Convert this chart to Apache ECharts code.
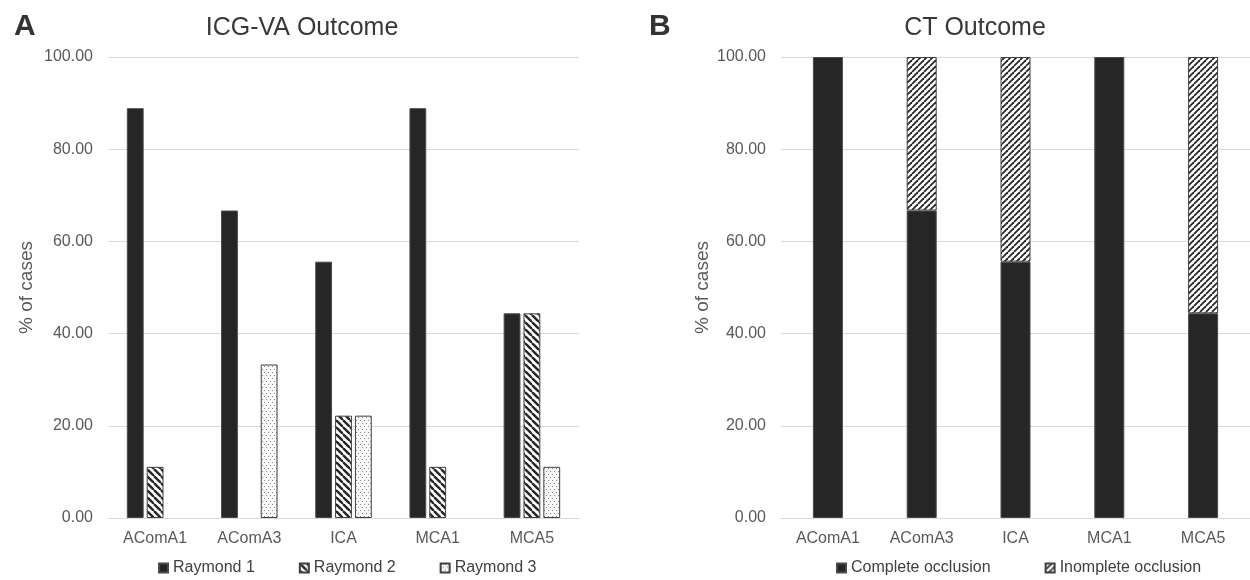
<!DOCTYPE html>
<html>
<head>
<meta charset="utf-8">
<script src="https://cdn.jsdelivr.net/npm/echarts@6/dist/echarts.min.js"></script>
<style>
html,body{margin:0;padding:0;background:#fff;}
#chart{width:1250px;height:580px;}
</style>
</head>
<body>
<div id="chart"></div>
<script>
// ---- data ----
const categories = ['AComA1', 'AComA3', 'ICA', 'MCA1', 'MCA5'];
const yTicks = [0, 20, 40, 60, 80, 100];
const raymond1 = [88.9, 66.7, 55.6, 88.9, 44.4];
const raymond2 = [11.1, 0, 22.2, 11.1, 44.4];
const raymond3 = [0, 33.3, 22.2, 0, 11.1];
const completeOcclusion = [100, 66.7, 55.6, 100, 44.4];
const incompleteOcclusion = [0, 33.3, 44.4, 0, 55.6];
const leftSeriesNames = ['Raymond 1', 'Raymond 2', 'Raymond 3'];
const rightSeriesNames = ['Complete occlusion', 'Inomplete occlusion'];

// ---- patterns ----
function stripes(size, lw, dir, color, bg) {
  const c = document.createElement('canvas');
  c.width = size; c.height = size;
  const g = c.getContext('2d');
  g.fillStyle = bg; g.fillRect(0, 0, size, size);
  g.strokeStyle = color; g.lineWidth = lw;
  for (let k = -1; k <= 1; k++) {
    g.beginPath();
    if (dir === 'back') { g.moveTo(k * size, 0); g.lineTo(k * size + size, size); }
    else { g.moveTo(k * size, size); g.lineTo(k * size + size, 0); }
    g.stroke();
  }
  return { image: c, repeat: 'repeat' };
}
function dots() {
  const c = document.createElement('canvas');
  c.width = 4; c.height = 6;
  const g = c.getContext('2d');
  g.fillStyle = '#f7f7f7'; g.fillRect(0, 0, 4, 6);
  g.fillStyle = '#8a8a8a';
  g.fillRect(0, 0, 1, 1);
  g.fillRect(2, 3, 1, 1);
  return { image: c, repeat: 'repeat' };
}
const BLACK = '#262626';
const r2Pattern = stripes(7, 2.4, 'back', '#262626', '#ffffff');
const r3Pattern = dots();
const ctPattern = stripes(6, 1.8, 'fwd', '#262626', '#ffffff');

const nz = arr => arr.map(v => (v === 0 ? null : v));

const labelColor = '#595959';
const gridColor = '#d9d9d9';
const font = 'Liberation Sans, Arial, sans-serif';

function yAxis(gridIndex, nameGap) {
  return {
    type: 'value', gridIndex, min: yTicks[0], max: yTicks[yTicks.length - 1], interval: 20,
    name: '% of cases', nameLocation: 'middle', nameGap,
    nameTextStyle: { color: labelColor, fontSize: 19, fontFamily: font },
    axisLine: { show: false }, axisTick: { show: false },
    axisLabel: { color: labelColor, fontSize: 16, fontFamily: font, margin: 15, formatter: v => v.toFixed(2) },
    splitLine: { lineStyle: { color: gridColor, width: 1 } }
  };
}
function xAxis(gridIndex) {
  return {
    type: 'category', gridIndex, data: categories,
    axisLine: { lineStyle: { color: gridColor, width: 1 } },
    axisTick: { show: false },
    axisLabel: { color: labelColor, fontSize: 16, fontFamily: font, margin: 13 }
  };
}

const chart = echarts.init(document.getElementById('chart'));
chart.setOption({
  animation: false,
  backgroundColor: '#ffffff',
  title: [
    { text: 'A', left: 9, top: 7, textStyle: { fontSize: 30, fontWeight: 'bold', color: '#333', fontFamily: font } },
    { text: 'ICG-VA Outcome', left: 297, top: 11, textAlign: 'center', textStyle: { fontSize: 25, fontWeight: 'normal', color: '#383838', fontFamily: font } },
    { text: 'B', left: 644, top: 7, textStyle: { fontSize: 30, fontWeight: 'bold', color: '#333', fontFamily: font } },
    { text: 'CT Outcome', left: 970, top: 11, textAlign: 'center', textStyle: { fontSize: 25, fontWeight: 'normal', color: '#383838', fontFamily: font } }
  ],
  legend: [
    { data: leftSeriesNames, left: 153, top: 555, itemWidth: 9, itemHeight: 9, itemGap: 44, icon: 'rect',
      textStyle: { color: '#404040', fontSize: 16, fontFamily: font } },
    { data: rightSeriesNames, left: 831, top: 555, itemWidth: 9, itemHeight: 9, itemGap: 54, icon: 'rect',
      textStyle: { color: '#404040', fontSize: 16, fontFamily: font } }
  ],
  grid: [
    { left: 108, top: 57, width: 471, height: 461 },
    { left: 781, top: 57, width: 472, height: 461 }
  ],
  xAxis: [xAxis(0), xAxis(1)],
  yAxis: [yAxis(0, 72), yAxis(1, 69)],
  series: [
    { name: leftSeriesNames[0], type: 'bar', xAxisIndex: 0, yAxisIndex: 0, data: nz(raymond1),
      barGap: '18%', barCategoryGap: '40%',
      itemStyle: { color: BLACK, borderColor: '#4a4a4a', borderWidth: 1 } },
    { name: leftSeriesNames[1], type: 'bar', xAxisIndex: 0, yAxisIndex: 0, data: nz(raymond2),
      barGap: '18%', barCategoryGap: '40%',
      itemStyle: { color: r2Pattern, borderColor: '#404040', borderWidth: 1 } },
    { name: leftSeriesNames[2], type: 'bar', xAxisIndex: 0, yAxisIndex: 0, data: nz(raymond3),
      barGap: '18%', barCategoryGap: '40%',
      itemStyle: { color: r3Pattern, borderColor: '#404040', borderWidth: 1 } },
    { name: rightSeriesNames[0], type: 'bar', xAxisIndex: 1, yAxisIndex: 1, stack: 'ct', data: nz(completeOcclusion),
      barWidth: 30,
      itemStyle: { color: BLACK, borderColor: '#4a4a4a', borderWidth: 1 } },
    { name: rightSeriesNames[1], type: 'bar', xAxisIndex: 1, yAxisIndex: 1, stack: 'ct', data: nz(incompleteOcclusion),
      barWidth: 30,
      itemStyle: { color: ctPattern, borderColor: '#404040', borderWidth: 1 } }
  ]
});
</script>
</body>
</html>
